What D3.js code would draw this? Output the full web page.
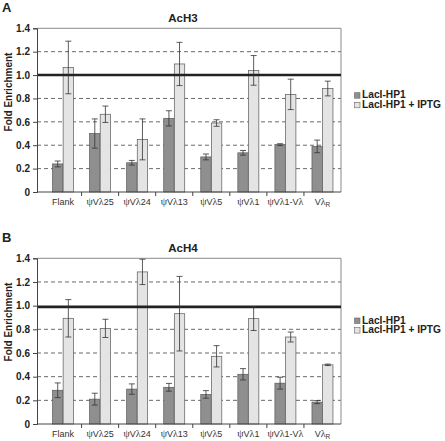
<!DOCTYPE html>
<html><head><meta charset="utf-8">
<script src="https://cdn.jsdelivr.net/npm/d3@7"></script>
<style>
html,body{margin:0;padding:0;background:#fff;}
svg{display:block;font-family:"Liberation Sans",Arial,sans-serif;}
</style></head>
<body>
<svg id="chart" width="445" height="441"></svg>
<script>
// ---- data ----
const categories = ["Flank","ψVλ25","ψVλ24","ψVλ13","ψVλ5","ψVλ1","ψVλ1-Vλ","VλR"];
const seriesNames = ["LacI-HP1","LacI-HP1 + IPTG"];
const yTicks = [0,0.2,0.4,0.6,0.8,1.0,1.2,1.4];
const yTickLabels = ["0","0.2","0.4","0.6","0.8","1.0","1.2","1.4"];

const ach3_laci     = [0.24, 0.50, 0.25, 0.63, 0.30, 0.335, 0.405, 0.39];
const ach3_laci_err = [0.025,0.125,0.02, 0.065,0.025,0.02, 0.008, 0.054];
const ach3_iptg     = [1.065,0.665,0.45, 1.095,0.59, 1.04, 0.835, 0.885];
const ach3_iptg_err = [0.225,0.07, 0.175,0.185,0.028,0.127,0.13, 0.063];
const ach3_ref = 1.0;

const ach4_laci     = [0.285,0.21, 0.295,0.31, 0.25, 0.42, 0.345,0.185];
const ach4_laci_err = [0.062,0.05, 0.044,0.033,0.032,0.048,0.05, 0.013];
const ach4_iptg     = [0.893,0.808,1.285,0.932,0.572,0.89, 0.735,0.50];
const ach4_iptg_err = [0.158,0.077,0.107,0.315,0.09, 0.10, 0.042,0.006];
const ach4_ref = 0.99;

// ---- drawing ----
const svg = d3.select("#chart");
const colors = ["#8f8f8f","#e4e4e4"];

function panel(oy, bottom, letter, title, s1, e1, s2, e2, refVal, legendY){
  const g = svg.append("g").attr("transform", `translate(0,${oy})`);
  const top = 28.3, left = 37, right = 341;
  const y = d3.scaleLinear().domain([0,1.4]).range([bottom, top]);
  const x = d3.scaleBand().domain(categories).range([44.5, right]);
  const xs = d3.scaleBand().domain(seriesNames).range([0, 21]).paddingInner(0.02);

  g.append("text").attr("x",2).attr("y",11.5).attr("font-size",13).attr("font-weight","bold").attr("fill","#222").text(letter);
  g.append("text").attr("x",183).attr("y",22).attr("text-anchor","middle")
    .attr("font-size",11.5).attr("font-weight","bold").attr("fill","#222").text(title);

  // grid
  g.selectAll(".grid").data(yTicks.filter(v => v>0 && v<1.4 && Math.abs(v-1)>1e-9))
    .join("line").attr("x1",left).attr("x2",right)
    .attr("y1",d=>y(d)).attr("y2",d=>y(d))
    .attr("stroke","#444").attr("stroke-width",0.8).attr("stroke-dasharray","4,3");
  // border top/right
  g.append("line").attr("x1",left).attr("x2",right).attr("y1",y(1.4)).attr("y2",y(1.4)).attr("stroke","#8a8a8a").attr("stroke-width",1);
  g.append("line").attr("x1",right).attr("x2",right).attr("y1",y(1.4)).attr("y2",y(0)).attr("stroke","#8a8a8a").attr("stroke-width",1);

  // bars
  const data = categories.map((c,i)=>[
    {c, s:seriesNames[0], v:s1[i], e:e1[i], k:0},
    {c, s:seriesNames[1], v:s2[i], e:e2[i], k:1}
  ]).flat();
  const cx = c => x(c) + x.bandwidth()/2 - 10.5;
  g.selectAll(".bar").data(data).join("rect")
    .attr("x", d => cx(d.c) + xs(d.s))
    .attr("width", xs.bandwidth())
    .attr("y", d => y(d.v))
    .attr("height", d => y(0)-y(d.v))
    .attr("fill", d => colors[d.k])
    .attr("stroke", "#5a5a5a").attr("stroke-width",0.7);

  // reference line
  g.append("line").attr("x1",left).attr("x2",right).attr("y1",y(refVal)).attr("y2",y(refVal))
    .attr("stroke","#222").attr("stroke-width",2.6);

  // error bars
  const eb = g.selectAll(".eb").data(data).join("g")
    .attr("transform", d => `translate(${cx(d.c)+xs(d.s)+xs.bandwidth()/2},0)`);
  eb.append("line").attr("y1",d=>y(d.v+d.e)).attr("y2",d=>y(d.v-d.e)).attr("stroke","#333").attr("stroke-width",0.8);
  eb.append("line").attr("x1",-3).attr("x2",3).attr("y1",d=>y(d.v+d.e)).attr("y2",d=>y(d.v+d.e)).attr("stroke","#333").attr("stroke-width",0.8);
  eb.append("line").attr("x1",-3).attr("x2",3).attr("y1",d=>y(d.v-d.e)).attr("y2",d=>y(d.v-d.e)).attr("stroke","#333").attr("stroke-width",0.8);

  // y axis
  const ya = g.append("g").attr("transform",`translate(${left},0)`)
    .call(d3.axisLeft(y).tickValues(yTicks).tickFormat((d,i)=>yTickLabels[i]).tickSize(4).tickPadding(3));
  ya.select(".domain").attr("stroke","#444").attr("stroke-width",1);
  ya.selectAll(".tick line").attr("stroke","#444");
  ya.selectAll(".tick text").attr("font-size",10).attr("font-weight","bold").attr("fill","#222")
    .attr("font-family","'Liberation Sans',Arial,sans-serif");

  // x axis
  g.append("line").attr("x1",left).attr("x2",right).attr("y1",y(0)).attr("y2",y(0)).attr("stroke","#444").attr("stroke-width",1);
  g.selectAll(".xt").data(categories.slice(1)).join("line")
    .attr("x1",d=>x(d)).attr("x2",d=>x(d)).attr("y1",y(0)).attr("y2",y(0)+4).attr("stroke","#444");
  const xl = g.selectAll(".xl").data(categories).join("text")
    .attr("x", d => x(d)+x.bandwidth()/2).attr("y", y(0)+12.5)
    .attr("text-anchor","middle").attr("font-size",9).attr("fill","#333");
  xl.each(function(d){
    const t = d3.select(this);
    const isR = d === "VλR";
    const s = isR ? "Vλ" : d;
    s.split(/([ψλ])/).filter(p=>p.length).forEach(p=>{
      const sp = t.append("tspan").text(p);
      if (p === "ψ" || p === "λ") sp.attr("font-family","'Liberation Serif','DejaVu Serif',serif").attr("font-size",10);
    });
    if (isR) t.append("tspan").attr("font-size",6.5).attr("dy",2).text("R");
  });

  // y label
  g.append("text").attr("transform",`translate(12,92) rotate(-90)`).attr("text-anchor","middle")
    .attr("font-size",10).attr("font-weight","bold").attr("fill","#222").text("Fold Enrichment");

  // legend
  const lg = g.append("g").attr("transform",`translate(354,${legendY})`);
  const rowGap = 9.6;
  seriesNames.forEach((n,i)=>{
    lg.append("rect").attr("x",0.5).attr("y",i*rowGap-5.5).attr("width",5.5).attr("height",5.5)
      .attr("fill",colors[i]).attr("stroke","#666").attr("stroke-width",0.6);
    lg.append("text").attr("x",8).attr("y",i*rowGap).attr("font-size",10.2).attr("font-weight","bold")
      .attr("fill","#222").text(n);
  });
}

panel(0, 192, "A", "AcH3", ach3_laci, ach3_laci_err, ach3_iptg, ach3_iptg_err, ach3_ref, 98.2);
panel(230, 194, "B", "AcH4", ach4_laci, ach4_laci_err, ach4_iptg, ach4_iptg_err, ach4_ref, 93.5);
</script>
</body></html>
